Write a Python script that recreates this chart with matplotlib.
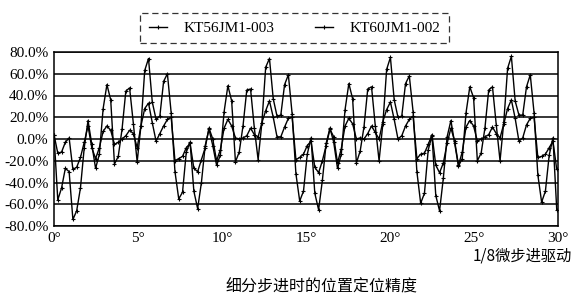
import numpy as np
import matplotlib
matplotlib.use('Agg')
from matplotlib import pyplot as plt
from matplotlib.ticker import FuncFormatter

plt.rcParams['font.family'] = ['Liberation Serif', 'Noto Sans CJK SC']
plt.rcParams['axes.unicode_minus'] = False

# 1/8 microstep of a 1.8 deg motor -> 0.225 deg per point
step_deg = 0.225

# large-amplitude curve, one row per 7.2 deg electrical period
big_p1 = [4, -56, -45, -27, -30, -74, -66, -45, -8, 17, -5, -27, -14, 28, 50, 36,
          -23, -16, 9, 44, 47, 14, -21, 12, 63, 74, 34, 18, 21, 53, 60, 24]
big_p2 = [-30, -55, -49, -12, -3, -48, -64, -40, -6, 9, -6, -24, -15, 25, 49, 35,
          -21, -12, 12, 45, 46, 10, -19, 15, 66, 74, 37, 21, 22, 50, 59, 23]
big_p3 = [-32, -57, -48, -14, 1, -50, -65, -38, -4, 10, -3, -27, -14, 27, 51, 37,
          -22, -11, 11, 46, 48, 12, -20, 14, 64, 75, 36, 20, 21, 51, 58, 25]
big_p4 = [-30, -59, -50, -10, 3, -52, -66, -36, 2, 17, -4, -25, -18, 24, 48, 38,
          -20, -13, 10, 45, 48, 13, -20, 16, 65, 76, 35, 22, 22, 48, 59, 24]
big_p5 = [-33, -58, -48, -15, 1, -65]

# small-amplitude curve
small_p1 = [4, -13, -12, -3, 1, -28, -26, -17, -3, 12, -8, -18, -8, 7, 12, 8,
            -5, -3, 0, 3, 8, 5, -8, 12, 28, 33, 15, -2, 5, 12, 18, 20]
small_p2 = [-20, -18, -16, -8, -4, -27, -30, -19, -8, 10, 0, -20, -10, 10, 18, 12,
            1, 0, 1, 3, 10, 4, 2, 15, 26, 35, 20, 2, 2, 11, 19, 20]
small_p3 = [-19, -17, -14, -6, -2, -26, -31, -20, -6, 9, 2, -22, -9, 12, 19, 14,
            0, 1, 0, 5, 12, 6, 0, 16, 27, 34, 18, 0, 3, 12, 18, 21]
small_p4 = [-18, -14, -13, -5, 4, -24, -31, -22, -4, 10, -2, -24, -12, 11, 17, 12,
            -2, 0, 2, 4, 11, 5, 1, 14, 28, 36, 19, -2, 1, 13, 19, 20]
small_p5 = [-17, -16, -14, -8, -2, -28]

names = ['KT56JM1-003', 'KT60JM1-002']
x_ticks = [0, 5, 10, 15, 20, 25, 30]
y_ticks = [-80, -60, -40, -20, 0, 20, 40, 60, 80]

big = np.array(big_p1 + big_p2 + big_p3 + big_p4 + big_p5, dtype=float)
small = np.array(small_p1 + small_p2 + small_p3 + small_p4 + small_p5, dtype=float)
x = np.arange(len(big)) * step_deg

fig = plt.figure(figsize=(5.8, 3.02), dpi=100)
ax = fig.add_axes([54 / 580, 76 / 302, 504 / 580, 174 / 302])

for yv in y_ticks:
    ax.axhline(yv, color='black', lw=1.1, zorder=1)

l1, = ax.plot(x, small, color='black', lw=1.0, marker='+', ms=3.5, mew=0.8, zorder=3)
l2, = ax.plot(x, big, color='black', lw=1.0, marker='+', ms=3.5, mew=0.8, zorder=3)

ax.set_xlim(0, 30)
ax.set_ylim(-80, 80)
ax.set_xticks(x_ticks)
ax.set_xticklabels([str(v) + '°' for v in x_ticks])
ax.set_yticks(y_ticks)
ax.yaxis.set_major_formatter(FuncFormatter(lambda v, p: '%.1f%%' % v))
ax.tick_params(length=0, labelsize=11, pad=4)
for s in ax.spines.values():
    s.set_linewidth(1.1)

leg = fig.legend([l1, l2], names, loc='center', bbox_to_anchor=(0.508, 0.907),
                 ncol=2, fontsize=11, frameon=True, fancybox=False,
                 handlelength=1.2, handletextpad=1.1, columnspacing=2.6,
                 borderpad=0.55, borderaxespad=0, numpoints=1)
leg.get_frame().set_linestyle((0, (5, 3)))
leg.get_frame().set_edgecolor('black')
leg.get_frame().set_linewidth(0.9)

fig.text(572 / 580, 1 - 256 / 302, '1/8微步进驱动', ha='right', va='center',
         fontsize=11, family=['Noto Sans CJK SC'])
fig.text(322 / 580, 1 - 287 / 302, '细分步进时的位置定位精度', ha='center', va='center',
         fontsize=11.5, family=['Noto Sans CJK SC'])

fig.savefig('out.png', dpi=100)
